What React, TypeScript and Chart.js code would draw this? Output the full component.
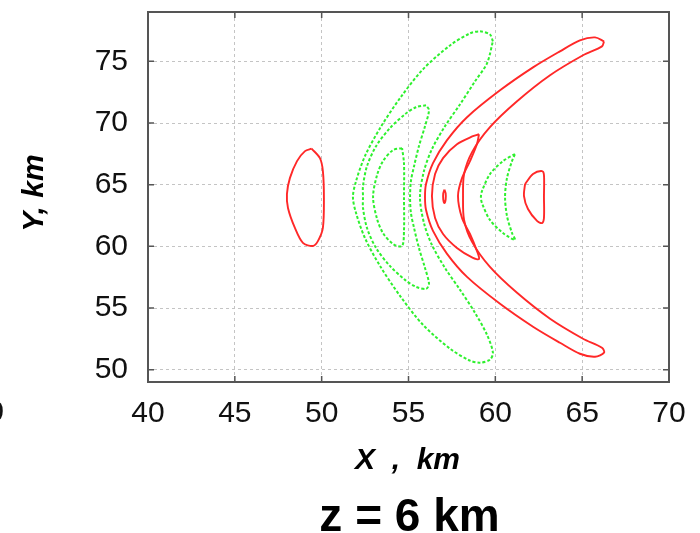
import React, { useEffect, useRef } from 'react';
import { Chart, registerables } from 'chart.js';

Chart.register(...registerables);

const xTicks = [40, 45, 50, 55, 60, 65, 70];
const yTicks = [50, 55, 60, 65, 70, 75];
const xTitle = 'X  ,  km';
const yTitle = 'Y, km';
const plotTitle = 'z = 6 km';
const strayLabel = '70';

// contour lines (km)
const redOval = [[49.42,67.92],[49.90,67.15],[50.07,66.10],[50.13,63.92],[50.07,61.49],[49.79,60.44],[49.50,60.03],[48.92,60.28],[48.46,61.49],[48.06,63.11],[48.00,64.24],[48.17,65.53],[48.58,66.91],[49.04,67.72],[49.42,67.92]];
const redDot = [[57.07,64.60],[57.14,64.30],[57.14,63.80],[57.07,63.50],[57.00,63.80],[57.00,64.30],[57.07,64.60]];
const redMid = [[59.06,69.09],[58.71,68.93],[57.79,68.28],[56.99,67.15],[56.53,65.86],[56.35,64.08],[56.53,62.30],[56.99,61.00],[57.79,59.87],[58.71,59.06],[59.06,58.98],[58.94,59.63],[58.54,61.00],[58.08,62.30],[57.85,64.08],[58.08,65.53],[58.54,66.91],[58.94,68.28],[59.06,69.09]];
const redBig = [[66.26,76.62],[65.74,76.94],[64.87,76.70],[63.72,75.81],[62.17,74.51],[60.27,72.65],[58.37,70.47],[57.22,68.61],[56.41,66.75],[56.01,65.05],[55.95,64.00],[56.01,62.94],[56.41,61.25],[57.22,59.39],[58.37,57.52],[60.27,55.34],[62.17,53.48],[63.72,52.18],[64.87,51.29],[65.74,51.05],[66.26,51.38],[66.14,51.78],[65.05,52.51],[63.15,54.13],[61.25,56.23],[59.69,58.33],[58.66,60.36],[58.20,62.14],[58.14,64.00],[58.20,65.86],[58.66,67.64],[59.69,69.66],[61.25,71.76],[63.15,73.87],[65.05,75.49],[66.14,76.21],[66.26,76.62]];
const redSmall = [[61.71,65.05],[62.17,65.86],[62.69,66.10],[62.80,65.78],[62.80,64.00],[62.80,62.30],[62.69,61.89],[62.40,62.06],[61.88,63.03],[61.65,64.08],[61.71,65.05]];
const greenRight = [[61.13,67.48],[60.44,66.91],[59.69,65.86],[59.23,64.48],[59.17,64.00],[59.23,63.51],[59.69,62.14],[60.44,61.08],[61.13,60.52],[60.96,61.08],[60.67,62.46],[60.56,64.00],[60.67,65.53],[60.96,66.91],[61.13,67.48]];
const greenSmall = [[54.63,67.96],[54.11,67.80],[53.53,66.91],[53.19,65.78],[52.96,64.00],[53.19,62.22],[53.53,61.08],[54.11,60.19],[54.63,60.03],[54.74,61.25],[54.74,64.00],[54.74,66.75],[54.63,67.96]];
const greenMid = [[56.01,71.44],[55.43,71.28],[54.80,70.71],[53.93,69.58],[53.13,68.12],[52.61,66.50],[52.38,64.89],[52.38,64.00],[52.38,63.11],[52.61,61.49],[53.13,59.87],[53.93,58.41],[54.80,57.28],[55.43,56.72],[56.01,56.55],[56.18,56.96],[55.95,58.25],[55.60,59.87],[55.32,61.49],[55.14,62.70],[55.09,64.00],[55.14,65.29],[55.32,66.50],[55.60,68.12],[55.95,69.74],[56.18,71.04],[56.01,71.44]];
const greenBig = [[59.86,76.62],[59.69,77.18],[59.12,77.43],[58.54,77.27],[57.39,76.29],[55.83,74.35],[54.51,72.01],[53.36,69.58],[52.49,67.31],[51.98,65.29],[51.80,64.00],[51.98,62.70],[52.49,60.68],[53.36,58.41],[54.51,55.99],[55.83,53.64],[57.39,51.70],[58.54,50.73],[59.12,50.57],[59.69,50.81],[59.86,51.38],[59.52,52.83],[58.83,54.61],[57.97,56.47],[57.10,58.25],[56.35,60.11],[55.89,61.89],[55.66,64.00],[55.89,66.10],[56.35,67.88],[57.10,69.74],[57.97,71.52],[58.83,73.38],[59.52,74.84],[59.86,76.62]];

const redLines = [redOval, redDot, redMid, redBig, redSmall];
const greenLines = [greenBig, greenMid, greenSmall, greenRight];

const FONT = '"Liberation Sans", Arial, Helvetica, sans-serif';

const framePlugin = {
  id: 'frameAndTexts',
  afterDraw(chart: any) {
    const ctx = chart.ctx;
    const a = chart.chartArea;
    const xs = chart.scales.x;
    const ys = chart.scales.y;
    ctx.save();
    ctx.strokeStyle = '#555';
    ctx.lineWidth = 2;
    ctx.strokeRect(a.left, a.top, a.right - a.left, a.bottom - a.top);
    ctx.lineWidth = 1.5;
    ctx.beginPath();
    for (const v of xTicks) {
      const p = xs.getPixelForValue(v);
      ctx.moveTo(p, a.bottom); ctx.lineTo(p, a.bottom - 6);
      ctx.moveTo(p, a.top); ctx.lineTo(p, a.top + 6);
    }
    for (const v of yTicks) {
      const p = ys.getPixelForValue(v);
      ctx.moveTo(a.left, p); ctx.lineTo(a.left + 6, p);
      ctx.moveTo(a.right, p); ctx.lineTo(a.right - 6, p);
    }
    ctx.stroke();

    ctx.fillStyle = '#000';
    ctx.textAlign = 'center';
    ctx.textBaseline = 'middle';
    ctx.font = 'italic bold 30px ' + FONT;
    ctx.fillText(xTitle, (a.left + a.right) / 2 - 1, a.bottom + 79);
    ctx.save();
    ctx.translate(35, 193);
    ctx.rotate(-Math.PI / 2);
    ctx.fillText(yTitle, 0, 0);
    ctx.restore();
    ctx.font = 'bold 46px ' + FONT;
    ctx.textBaseline = 'alphabetic';
    ctx.fillText(plotTitle, (a.left + a.right) / 2 + 1, 531);
    ctx.font = '30px ' + FONT;
    ctx.textAlign = 'right';
    ctx.textBaseline = 'middle';
    ctx.fillStyle = '#111';
    ctx.fillText(strayLabel, 4, a.bottom + 31);
    ctx.restore();
  },
};

export default function App() {
  const ref = useRef<HTMLCanvasElement | null>(null);
  useEffect(() => {
    if (!ref.current) return;
    const toPts = (arr: number[][]) => arr.map(([x, y]) => ({ x, y }));
    const datasets: any[] = [
      ...greenLines.map((l) => ({
        data: toPts(l),
        showLine: true,
        borderColor: '#2ef02e',
        borderWidth: 2,
        borderDash: [3, 2],
        pointRadius: 0,
        tension: 0.3,
        fill: false,
      })),
      ...redLines.map((l) => ({
        data: toPts(l),
        showLine: true,
        borderColor: '#ff2828',
        borderWidth: 1.9,
        pointRadius: 0,
        tension: 0.3,
        fill: false,
      })),
    ];
    const chart = new Chart(ref.current, {
      type: 'scatter',
      data: { datasets },
      plugins: [framePlugin],
      options: {
        animation: false,
        responsive: true,
        maintainAspectRatio: false,
        layout: { padding: { left: 0, right: 31, top: 12, bottom: 0 } },
        plugins: { legend: { display: false }, tooltip: { enabled: false }, title: { display: false } },
        scales: {
          x: {
            type: 'linear',
            min: 40,
            max: 70,
            afterBuildTicks: (axis: any) => { axis.ticks = xTicks.map((v) => ({ value: v })); },
            afterFit: (scale: any) => { scale.height = 151; scale.paddingLeft = 0; scale.paddingRight = 0; },
            ticks: { color: '#111', font: { family: FONT, size: 30 }, padding: 14, maxRotation: 0 },
            grid: { color: '#c4c4c4', lineWidth: 1, drawTicks: false },
            border: { display: false, dash: [3, 3] },
          },
          y: {
            type: 'linear',
            min: 49,
            max: 79,
            afterBuildTicks: (axis: any) => { axis.ticks = yTicks.map((v) => ({ value: v })); },
            afterFit: (scale: any) => { scale.width = 148; scale.paddingTop = 0; scale.paddingBottom = 0; },
            ticks: { color: '#111', font: { family: FONT, size: 30 }, padding: 20 },
            grid: { color: '#c4c4c4', lineWidth: 1, drawTicks: false },
            border: { display: false, dash: [3, 3] },
          },
        },
      },
    });
    return () => chart.destroy();
  }, []);
  return (
    <div style={{ position: 'absolute', left: 0, top: 0, width: 700, height: 533, background: '#fff' }}>
      <canvas ref={ref} />
    </div>
  );
}
